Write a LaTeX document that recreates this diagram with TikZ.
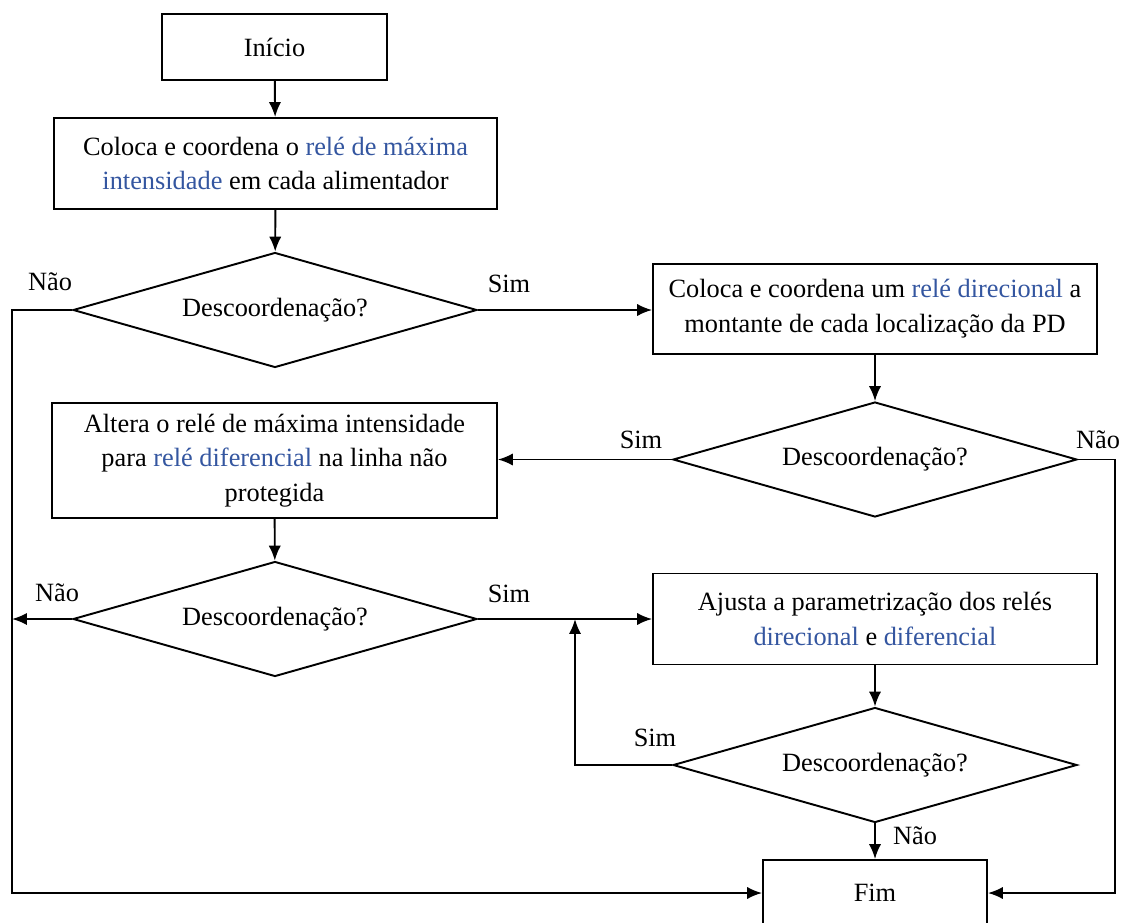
\documentclass[tikz,border=0pt]{standalone}
\usepackage{fontspec}
\setmainfont{Liberation Serif}
\usetikzlibrary{shapes.geometric,arrows.meta}
\definecolor{relblue}{RGB}{52,86,160}
\newcommand{\rel}[1]{\textcolor{relblue}{#1}}
\tikzset{
  box/.style={draw, line width=1.1pt, align=center, inner sep=2pt},
  decision/.style={draw, diamond, aspect=3.5, line width=1.1pt, inner sep=0pt,
    minimum width=8.08cm, minimum height=2.3cm},
  arr/.style={line width=1.1pt, -{Latex[length=8.5pt,width=7pt]}},
  lbl/.style={inner sep=0pt}
}
\begin{document}
\begin{tikzpicture}[x=0.02cm, y=-0.02cm, font=\fontsize{15}{19.8}\selectfont]
  \useasboundingbox (0,0) rectangle (1126,923);

  % left column
  \node[box, minimum width=4.5cm, minimum height=1.32cm] (inicio) at (274.5,47) {Início};
  \node[box, minimum width=8.86cm, minimum height=1.82cm] (coloca) at (275.5,163.5)
    {Coloca e coordena o \rel{relé de máxima}\\\rel{intensidade} em cada alimentador};
  \node[decision] (d1) at (275,310) {Descoordenação?};
  \node[box, minimum width=8.9cm, minimum height=2.3cm] (altera) at (274.5,460.5)
    {Altera o relé de máxima intensidade\\para \rel{relé diferencial} na linha não\\protegida};
  \node[decision] (d3) at (275,619) {Descoordenação?};

  % right column
  \node[box, minimum width=8.88cm, minimum height=1.8cm] (direc) at (875,309)
    {Coloca e coordena um \rel{relé direcional} a\\montante de cada localização da PD};
  \node[decision] (d2) at (875,459.5) {Descoordenação?};
  \node[box, minimum width=8.88cm, minimum height=1.82cm] (ajusta) at (875,619)
    {Ajusta a parametrização dos relés\\\rel{direcional} e \rel{diferencial}};
  \node[decision] (d4) at (875,765) {Descoordenação?};
  \node[box, minimum width=4.48cm, minimum height=1.32cm] (fim) at (875,893) {Fim};

  % bus lines
  \coordinate (left) at (12,0);
  \coordinate (right) at (1115,0);
  \coordinate (loop) at (575,0);

  % connectors
  \draw[arr] (inicio) -- (coloca);
  \draw[arr] (coloca) -- (d1);
  \draw[arr] (d1.east) -- (d1.east -| direc.west);
  \draw[arr] (direc) -- (d2);
  \draw[arr] (d2.west) -- (d2.west -| altera.east);
  \draw[arr] (altera) -- (d3);
  \draw[arr] (d3.east) -- (ajusta.west);
  \draw[arr] (ajusta) -- (d4);
  \draw[arr] (d4.west) -| (loop |- d3.east);
  \draw[arr] (d4) -- (fim);
  \draw[arr] (d1.west) -- (d1.west -| left) |- (fim.west);
  \draw[arr] (d3.west) -- (d3.west -| left);
  \draw[arr] (d2.east) -- (d2.east -| right) |- (fim.east);

  % labels
  \node[lbl] (n1) at (50,282) {Não};
  \node[lbl] (s1) at (509,284) {Sim};
  \node[lbl] (s2) at (641,440) {Sim};
  \node[lbl] (n2) at (1098,440) {Não};
  \node[lbl] (n3) at (57,593) {Não};
  \node[lbl] (s3) at (509,594) {Sim};
  \node[lbl] (s4) at (655,738) {Sim};
  \node[lbl] (n4) at (915,836) {Não};
\end{tikzpicture}
\end{document}
